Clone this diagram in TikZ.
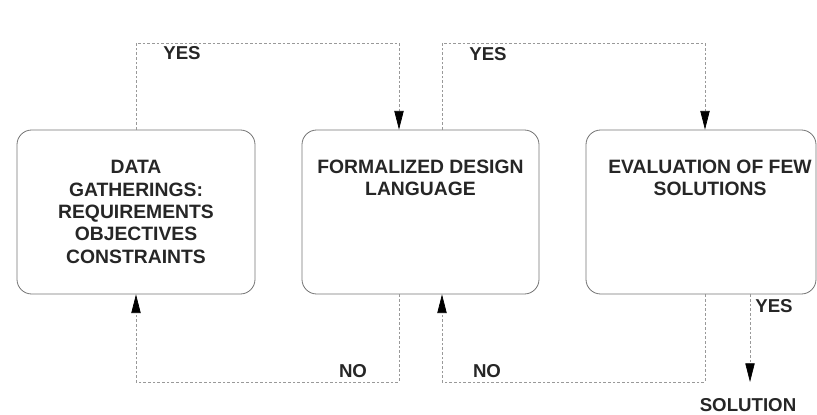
\documentclass[tikz,border=0pt]{standalone}
\usepackage{fontspec}
\setmainfont{Liberation Sans}
\usetikzlibrary{arrows.meta,calc}

\tikzset{
  stage/.style={draw=black!55, line width=0.6pt, rounded corners=11pt,
    minimum width=178.5pt, minimum height=123pt, align=center, text=black!85,
    font=\bfseries\fontsize{14.5}{16.8}\selectfont},
  caption/.style={inner sep=0pt, align=center, text=black!85,
    font=\bfseries\fontsize{14.5}{16}\selectfont},
  link/.style={draw=black!40, line width=0.5pt, dash pattern=on 2pt off 1.5pt},
  tip/.style={-{Triangle[length=14pt,width=7pt,color=black]}},
  tag/.style={inner sep=0pt, text=black!85, font=\bfseries\fontsize{14}{16}\selectfont}
}

\begin{document}
\begin{tikzpicture}[x=0.75pt,y=-0.75pt]
\useasboundingbox (0,0) rectangle (817,414);

% the three stages
\node[stage] (gather) at (136,212) {DATA\\GATHERINGS:\\REQUIREMENTS\\OBJECTIVES\\CONSTRAINTS};
\node[stage, minimum width=177.75pt] (formal) at (420.5,212) {};
\node[stage, minimum width=172.5pt] (evaluate) at (701,212) {};
\node[caption, anchor=north] (formaltext) at ($(formal.north)+(0,30.5)$) {FORMALIZED DESIGN\\LANGUAGE};
\node[caption, anchor=north] (evaluatetext) at ($(evaluate.north)+(9,30.5)$) {EVALUATION OF FEW\\SOLUTIONS};

% ports on the boxes
\coordinate (formal-in) at ($(formal.north)+(-21.5,0)$);
\coordinate (formal-out) at ($(formal.north)+(21.5,0)$);
\coordinate (formal-fail) at ($(formal.south)+(-21.5,0)$);
\coordinate (formal-back) at ($(formal.south)+(21.5,0)$);
\coordinate (evaluate-in) at ($(evaluate.north)+(4,0)$);
\coordinate (evaluate-fail) at ($(evaluate.south)+(4,0)$);
\coordinate (evaluate-out) at ($(evaluate.south)+(49,0)$);
\coordinate (yesrow) at (0,43);
\coordinate (norow) at (0,382);
\coordinate (result) at (750,382);

% loops
\draw[link,tip] (gather.north) |- (yesrow -| formal-in) -- (formal-in);
\draw[link,tip] (formal-out) |- (yesrow -| evaluate-in) -- (evaluate-in);
\draw[link,tip] (formal-fail) |- (norow -| gather.south) -- (gather.south);
\draw[link,tip] (evaluate-fail) |- (norow -| formal-back) -- (formal-back);
\draw[link,tip] (evaluate-out) -- (result);

\node[tag] (yes1) at (182,53) {YES};
\node[tag] (yes2) at (488,54) {YES};
\node[tag] (no1) at (353,371) {NO};
\node[tag] (no2) at (487,371) {NO};
\node[tag] (yes3) at (774,306) {YES};
\node[tag] (solution) at (748,405) {SOLUTION};
\end{tikzpicture}
\end{document}
